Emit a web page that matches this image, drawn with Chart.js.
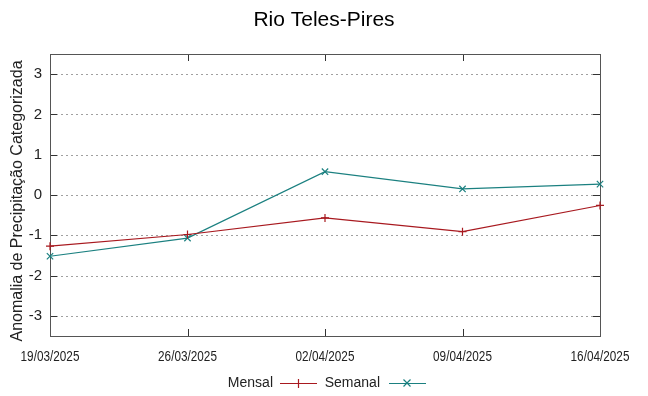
<!DOCTYPE html>
<html>
<head>
<meta charset="utf-8">
<style>
  html, body { margin: 0; padding: 0; background: #fff; }
  #wrap { width: 648px; height: 396px; position: relative; }
</style>
<script src="https://cdn.jsdelivr.net/npm/chart.js@4"></script>
</head>
<body>
<div id="wrap"><canvas id="c"></canvas></div>
<script>
const dates = ['19/03/2025', '26/03/2025', '02/04/2025', '09/04/2025', '16/04/2025']
const mensal = [-1.27, -0.98, -0.57, -0.91, -0.26]
const semanal = [-1.52, -1.07, 0.58, 0.15, 0.27]
const yTicks = [-3, -2, -1, 0, 1, 2, 3]

const RED = '#a8191f'
const TEAL = '#1b8080'

// box, inward ticks, dotted grid, title, y label, legend
const frame = {
  id: 'frame',
  beforeDatasetsDraw(chart) {
    const { ctx, chartArea: a, scales } = chart
    ctx.save()
    ctx.strokeStyle = '#a0a0a0'
    ctx.lineWidth = 1
    ctx.setLineDash([2, 3])
    yTicks.forEach((v) => {
      const y = Math.round(scales.y.getPixelForValue(v)) + 0.5
      ctx.beginPath()
      ctx.moveTo(a.left + 1, y)
      ctx.lineTo(a.right - 1, y)
      ctx.stroke()
    })
    ctx.setLineDash([])
    ctx.strokeStyle = '#333'
    yTicks.forEach((v) => {
      const y = Math.round(scales.y.getPixelForValue(v)) + 0.5
      ctx.beginPath()
      ctx.moveTo(a.left, y); ctx.lineTo(a.left + 7, y)
      ctx.moveTo(a.right, y); ctx.lineTo(a.right - 7, y)
      ctx.stroke()
    })
    dates.forEach((d, i) => {
      const x = Math.round(scales.x.getPixelForValue(i)) + 0.5
      ctx.beginPath()
      ctx.moveTo(x, a.top); ctx.lineTo(x, a.top + 7)
      ctx.moveTo(x, a.bottom); ctx.lineTo(x, a.bottom - 7)
      ctx.stroke()
    })
    ctx.strokeStyle = '#555'
    ctx.strokeRect(Math.round(a.left) + 0.5, Math.round(a.top) + 0.5,
      Math.round(a.right - a.left), Math.round(a.bottom - a.top))
    ctx.restore()
  },
  afterDraw(chart) {
    const { ctx, scales } = chart
    ctx.save()
    ctx.fillStyle = '#000'
    ctx.textAlign = 'center'
    ctx.textBaseline = 'middle'
    ctx.font = '21px "Liberation Sans", Arial, sans-serif'
    ctx.fillText('Rio Teles-Pires', 324, 20)

    // narrow x tick labels, like the original
    ctx.font = '14px "Liberation Sans", Arial, sans-serif'
    ctx.fillStyle = '#222'
    dates.forEach((d, i) => {
      const x = scales.x.getPixelForValue(i)
      ctx.save()
      ctx.translate(x, 357)
      ctx.scale(0.84, 1)
      ctx.fillText(d, 0, 0)
      ctx.restore()
    })

    ctx.save()
    ctx.translate(18, 201)
    ctx.rotate(-Math.PI / 2)
    ctx.font = '16px "Liberation Sans", Arial, sans-serif'
    ctx.fillStyle = '#222'
    ctx.fillText('Anomalia de Precipitação Categorizada', 0, 0)
    ctx.restore()

    // legend
    ctx.font = '14px "Liberation Sans", Arial, sans-serif'
    ctx.textAlign = 'right'
    ctx.fillStyle = '#222'
    const ly = 383
    ctx.fillText('Mensal', 273, ly)
    ctx.fillText('Semanal', 380, ly)
    ctx.lineWidth = 1.2
    ctx.strokeStyle = RED
    ctx.beginPath()
    ctx.moveTo(280, ly + 0.5); ctx.lineTo(317, ly + 0.5)
    ctx.moveTo(298.5, ly - 4); ctx.lineTo(298.5, ly + 5)
    ctx.stroke()
    ctx.strokeStyle = TEAL
    ctx.beginPath()
    ctx.moveTo(389, ly + 0.5); ctx.lineTo(426, ly + 0.5)
    ctx.moveTo(403.5, ly - 3.5); ctx.lineTo(410.5, ly + 3.5)
    ctx.moveTo(403.5, ly + 3.5); ctx.lineTo(410.5, ly - 3.5)
    ctx.stroke()
    ctx.restore()
  }
}

new Chart(document.getElementById('c').getContext('2d'), {
  type: 'line',
  data: {
    labels: dates,
    datasets: [
      {
        label: 'Mensal',
        data: mensal,
        borderColor: RED,
        backgroundColor: RED,
        borderWidth: 1.2,
        pointStyle: 'cross',
        pointRadius: 4,
        pointBorderWidth: 1.2,
        pointHoverRadius: 4,
        tension: 0,
        clip: false
      },
      {
        label: 'Semanal',
        data: semanal,
        borderColor: TEAL,
        backgroundColor: TEAL,
        borderWidth: 1.2,
        pointStyle: 'crossRot',
        pointRadius: 4.5,
        pointBorderWidth: 1.2,
        pointHoverRadius: 4.5,
        tension: 0,
        clip: false
      }
    ]
  },
  options: {
    responsive: true,
    maintainAspectRatio: false,
    animation: false,
    events: [],
    layout: { padding: { left: 0, top: 54, right: 48, bottom: 0 } },
    plugins: {
      legend: { display: false },
      title: { display: false },
      tooltip: { enabled: false }
    },
    scales: {
      x: {
        offset: false,
        grid: { display: false, drawTicks: false },
        border: { display: false },
        ticks: { display: false },
        afterFit: (s) => { s.height = 60 }
      },
      y: {
        min: -3.5,
        max: 3.5,
        afterBuildTicks: (s) => { s.ticks = yTicks.map((v) => ({ value: v })) },
        grid: { display: false, drawTicks: false },
        border: { display: false },
        ticks: {
          color: '#222',
          padding: 8,
          font: { family: '"Liberation Sans", Arial, sans-serif', size: 15 }
        },
        afterFit: (s) => { s.width = 50 }
      }
    }
  },
  plugins: [frame]
})
</script>
</body>
</html>
